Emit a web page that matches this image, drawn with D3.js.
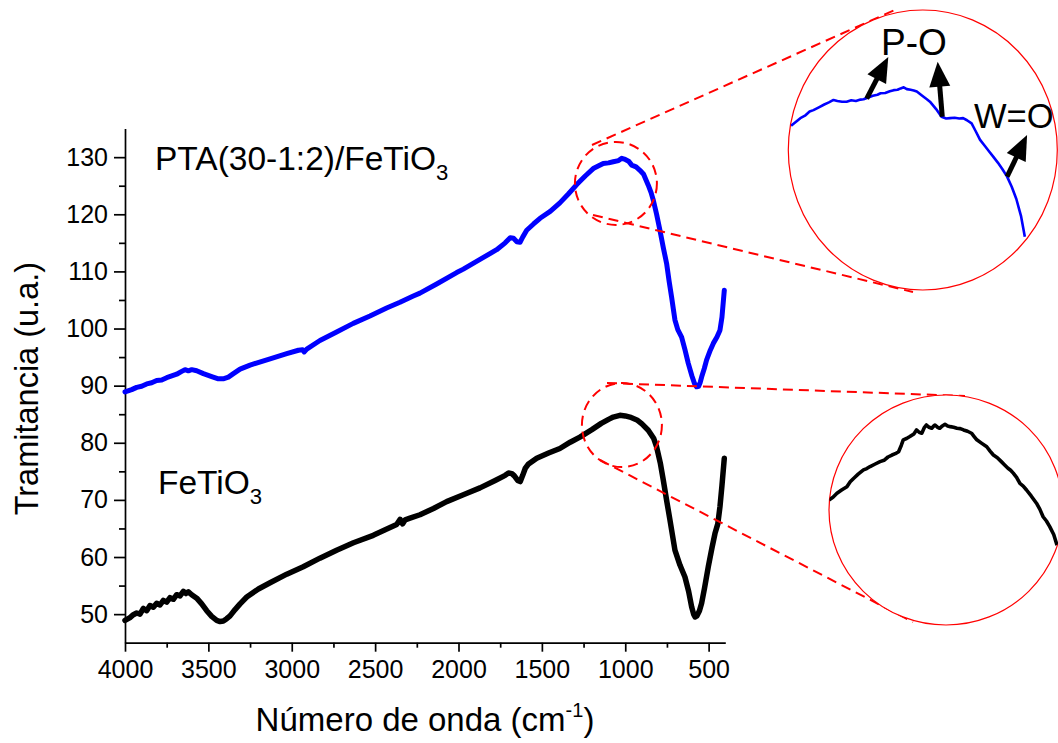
<!DOCTYPE html>
<html>
<head>
<meta charset="utf-8">
<script src="https://cdn.jsdelivr.net/npm/d3@7"></script>
<style>
  body { margin: 0; background: #fff; }
  text { font-family: "Liberation Sans", Arial, Helvetica, sans-serif; fill: #000; }
</style>
</head>
<body>
<svg id="chart" width="1058" height="743"></svg>
<script>
// ---- FTIR spectra (wavenumber in cm-1, transmittance in a.u.) ----
const feWave = [4000,3970,3950,3930,3910,3890,3870,3850,3830,3810,3790,3770,3750,3730,3710,3690,3670,3650,3635,3620,3600,3570,3540,3510,3480,3450,3430,3410,3390,3370,3340,3310,3270,3200,3130,3030,2931,2831,2731,2630,2511,2430,2371,2350,2335,2320,2291,2231,2150,2071,1971,1871,1780,1720,1700,1680,1665,1645,1630,1615,1600,1580,1531,1460,1392,1330,1272,1200,1144,1100,1072,1032,1000,972,930,900,862,830,812,790,772,750,732,702,672,642,620,602,590,581,570,555,542,525,502,480,462,445,432,420,406];
const feT    = [48.9,49.4,49.9,50.2,50.0,51.0,50.6,51.5,51.2,51.9,51.6,52.4,52.1,52.9,52.6,53.4,53.2,54.0,53.6,53.9,53.4,52.8,51.8,50.6,49.6,48.9,48.7,48.8,49.2,49.7,50.8,51.8,53.0,54.4,55.5,57.0,58.3,59.8,61.2,62.5,63.8,64.9,65.7,66.6,65.8,66.5,66.8,67.4,68.5,69.7,70.9,72.1,73.4,74.3,74.7,74.6,74.2,73.4,73.2,74.3,75.5,76.3,77.3,78.2,79.0,80.1,81.0,82.3,83.4,84.1,84.5,84.8,84.7,84.5,84.0,83.3,82.2,80.8,79.3,76.5,73.5,69.6,66.5,61.2,58.6,56.5,54.0,51.3,50.0,49.5,49.7,50.6,51.9,54.5,58.3,61.6,64.1,65.8,68.8,72.5,77.3];

const ptaWave = [4000,3960,3930,3900,3870,3840,3810,3780,3750,3720,3690,3660,3640,3620,3600,3570,3530,3480,3440,3411,3380,3350,3310,3250,3130,3030,2960,2935,2925,2910,2831,2731,2631,2531,2431,2351,2271,2231,2131,2011,1971,1871,1771,1720,1690,1670,1650,1631,1615,1591,1550,1511,1450,1392,1340,1291,1240,1192,1132,1100,1072,1040,1021,1000,980,961,935,912,890,862,845,832,812,792,772,752,737,722,712,702,685,662,642,622,600,585,572,560,550,542,526,512,490,472,450,432,420,406];
const ptaT    = [88.9,89.3,89.7,89.9,90.3,90.5,90.9,91.0,91.4,91.7,92.0,92.5,92.8,92.6,92.8,92.6,92.1,91.6,91.2,91.2,91.5,92.1,92.9,93.6,94.7,95.6,96.2,96.3,95.9,96.4,97.9,99.4,100.9,102.2,103.6,104.6,105.7,106.2,107.8,109.8,110.4,112.1,113.8,115.0,115.9,115.8,115.2,115.1,116.0,117.2,118.3,119.3,120.5,122.0,123.6,125.2,126.7,128.0,128.9,129.0,129.2,129.4,129.8,129.6,129.3,128.6,128.3,127.7,127.0,125.1,123.8,122.5,120.0,117.2,114.2,111.4,108.3,105.5,103.5,101.5,99.8,98.5,96.3,93.9,91.7,90.4,89.8,89.9,90.6,91.5,93.0,94.5,96.2,97.4,98.5,99.7,102.0,106.7];

// ---- zoomed views of the 1200-850 cm-1 band region ----
const ptaZoomWave = [1196,1190,1184,1178,1172,1167,1160,1153,1147,1141,1136,1130,1124,1118,1112,1106,1102,1096,1090,1084,1080,1074,1068,1063,1058,1054,1050,1046,1041,1037,1033,1026,1020,1016,1008,1001,995,990,984,978,973,968,962,957,951,945,940,934,928,922,916,910,904,898,893];
const ptaZoomT    = [127.69,127.80,127.91,127.98,128.10,128.14,128.22,128.30,128.36,128.43,128.40,128.38,128.38,128.42,128.40,128.44,128.45,128.50,128.55,128.58,128.62,128.63,128.68,128.71,128.72,128.76,128.79,128.74,128.72,128.70,128.67,128.55,128.45,128.38,128.17,127.95,127.90,127.91,127.92,127.90,127.91,127.85,127.76,127.55,127.29,127.12,126.98,126.81,126.64,126.45,126.24,125.95,125.60,125.12,124.52];

const feZoomWave = [1200,1194,1188,1181,1173,1168,1163,1156,1148,1143,1138,1131,1123,1117,1111,1105,1100,1095,1091,1088,1083,1078,1072,1068,1064,1060,1056,1053,1049,1045,1042,1040,1036,1033,1029,1025,1021,1017,1012,1007,1002,997,991,985,981,977,970,962,957,952,946,940,935,930,926,922,917,912,907,902,895,887,882,877,872,867,861,856];
const feZoomT    = [82.50,82.58,82.70,82.80,82.90,83.05,83.15,83.28,83.41,83.45,83.51,83.58,83.66,83.70,83.80,83.86,83.90,83.96,84.15,84.32,84.36,84.42,84.50,84.62,84.55,84.52,84.70,84.77,84.70,84.67,84.74,84.77,84.70,84.67,84.74,84.79,84.74,84.72,84.70,84.67,84.66,84.62,84.58,84.52,84.42,84.32,84.22,84.11,83.98,83.86,83.78,83.66,83.56,83.46,83.40,83.31,83.18,83.00,82.92,82.80,82.62,82.40,82.22,81.99,81.86,81.69,81.45,81.13];

// band assignments marked in the PTA zoom (wavenumber, transmittance at the band)
const bandWave = [1098, 1000, 916];
const bandT    = [128.47, 127.95, 126.24];

// axis ticks
const xMajorTicks = [4000,3500,3000,2500,2000,1500,1000,500];
const xMinorTicks = [3750,3250,2750,2250,1750,1250,750];
const yMajorTicks = [50,60,70,80,90,100,110,120,130];
const yMinorTicks = [55,65,75,85,95,105,115,125];

// ---- drawing ----
const svg = d3.select("#chart");
const FONT = 25;

const x = d3.scaleLinear().domain([4000, 400]).range([125, 725.3]);
const y = d3.scaleLinear().domain([45, 135]).range([642.7, 128.6]);

// x axis
const gx = svg.append("g").attr("transform", `translate(0,${y(45)})`);
gx.call(d3.axisBottom(x).tickValues(xMajorTicks).tickSize(9).tickSizeOuter(0)
  .tickPadding(9).tickFormat(d3.format("d")));
gx.append("g").call(d3.axisBottom(x).tickValues(xMinorTicks).tickSize(5).tickSizeOuter(0).tickFormat(""))
  .select(".domain").remove();

// y axis
const gy = svg.append("g").attr("transform", `translate(${x(4000)},0)`);
gy.call(d3.axisLeft(y).tickValues(yMajorTicks).tickSize(11).tickSizeOuter(0)
  .tickPadding(6).tickFormat(d3.format("d")));
gy.append("g").call(d3.axisLeft(y).tickValues(yMinorTicks).tickSize(6).tickSizeOuter(0).tickFormat(""))
  .select(".domain").remove();

svg.selectAll(".domain, .tick line").attr("stroke", "#000").attr("stroke-width", 1.7);
svg.selectAll(".tick text").attr("font-size", FONT).attr("fill", "#000")
  .attr("font-family", "'Liberation Sans', Arial, sans-serif");

// axis titles
svg.append("text")
  .attr("transform", `translate(38,${(y(45) + y(135)) / 2 + 3}) rotate(-90)`)
  .attr("text-anchor", "middle").attr("font-size", 32.5)
  .text("Tramitancia (u.a.)");

const xt = svg.append("text")
  .attr("x", 425).attr("y", 731).attr("text-anchor", "middle").attr("font-size", 33);
xt.append("tspan").text("Número de onda (cm");
xt.append("tspan").attr("font-size", 20).attr("dy", -14).text("-1");
xt.append("tspan").attr("dy", 14).text(")");

// spectra
const line = d3.line().x(d => x(d[0])).y(d => y(d[1]));
svg.append("path").datum(d3.zip(ptaWave, ptaT))
  .attr("d", line).attr("fill", "none").attr("stroke", "#0000ff")
  .attr("stroke-width", 5).attr("stroke-linejoin", "round").attr("stroke-linecap", "round");
svg.append("path").datum(d3.zip(feWave, feT))
  .attr("d", line).attr("fill", "none").attr("stroke", "#000")
  .attr("stroke-width", 5.5).attr("stroke-linejoin", "round").attr("stroke-linecap", "round");

// sample labels
function chemLabel(px, py, main, sub, size) {
  const t = svg.append("text").attr("x", px).attr("y", py).attr("font-size", size);
  t.append("tspan").text(main);
  t.append("tspan").attr("font-size", size * 0.66).attr("dy", size * 0.3).text(sub);
}
chemLabel(155, 170, "PTA(30-1:2)/FeTiO", "3", 33.5);
chemLabel(158, 494, "FeTiO", "3", 33.5);

// ---- magnified regions ----
const RED = "#ff0000";
const dash = "10,6";

// dashed outlines around the magnified band region on each spectrum
const spotTop = { cx: x(1056), cy: y(125.4), rx: 41, ry: 41.5 };
const spotBot = { cx: x(1020), cy: y(83.1), rx: 40, ry: 42 };
[spotTop, spotBot].forEach(s => {
  svg.append("ellipse").attr("cx", s.cx).attr("cy", s.cy).attr("rx", s.rx).attr("ry", s.ry)
    .attr("fill", "none").attr("stroke", RED).attr("stroke-width", 2).attr("stroke-dasharray", dash);
});

const lensTop = { cx: 922.8, cy: 150, rx: 134.5, ry: 140 };
const lensBot = { cx: 946, cy: 510, rx: 117, ry: 115 };

// dashed guide lines from each outline to its magnifier
const guides = [
  [592, 145, 897, 9], [593, 215, 913, 292],
  [607, 383, 965, 396], [600, 460, 913, 622]
];
svg.selectAll(".guide").data(guides).enter().append("line")
  .attr("x1", d => d[0]).attr("y1", d => d[1]).attr("x2", d => d[2]).attr("y2", d => d[3])
  .attr("stroke", RED).attr("stroke-width", 2).attr("stroke-dasharray", dash);

const defs = svg.append("defs");
[["clipTop", lensTop], ["clipBot", lensBot]].forEach(([id, l]) => {
  defs.append("clipPath").attr("id", id).append("ellipse")
    .attr("cx", l.cx).attr("cy", l.cy).attr("rx", l.rx).attr("ry", l.ry);
});

[lensTop, lensBot].forEach(l => {
  svg.append("ellipse").attr("cx", l.cx).attr("cy", l.cy).attr("rx", l.rx).attr("ry", l.ry)
    .attr("fill", "#fff").attr("stroke", RED).attr("stroke-width", 1.2);
});

// PTA zoom
const zx1 = d3.scaleLinear().domain([1200, 850]).range([788, 1058]);
const zy1 = d3.scaleLinear().domain([123, 131]).range([290, 10]);
svg.append("path").datum(d3.zip(ptaZoomWave, ptaZoomT))
  .attr("clip-path", "url(#clipTop)")
  .attr("d", d3.line().x(d => zx1(d[0])).y(d => zy1(d[1])))
  .attr("fill", "none").attr("stroke", "#0000ff").attr("stroke-width", 2.6)
  .attr("stroke-linejoin", "round");

// FeTiO3 zoom
const zx2 = d3.scaleLinear().domain([1200, 850]).range([829, 1061]);
const zy2 = d3.scaleLinear().domain([78.7, 85.7]).range([625.3, 394.3]);
svg.append("path").datum(d3.zip(feZoomWave, feZoomT))
  .attr("clip-path", "url(#clipBot)")
  .attr("d", d3.line().x(d => zx2(d[0])).y(d => zy2(d[1])))
  .attr("fill", "none").attr("stroke", "#000").attr("stroke-width", 3.6)
  .attr("stroke-linejoin", "round");

// band arrows
const arrowOffsets = [[21.6, -41.6], [-4.6, -55], [20, -41.6]];
function arrow(x0, y0, x1, y1) {
  const L = 25, W = 21;
  const len = Math.hypot(x1 - x0, y1 - y0);
  const ux = (x1 - x0) / len, uy = (y1 - y0) / len;
  const bx = x1 - ux * L, by = y1 - uy * L;
  svg.append("line").attr("x1", x0).attr("y1", y0).attr("x2", bx + ux * 2).attr("y2", by + uy * 2)
    .attr("stroke", "#000").attr("stroke-width", 5);
  svg.append("polygon")
    .attr("points", [[x1, y1], [bx - uy * W / 2, by + ux * W / 2], [bx + uy * W / 2, by - ux * W / 2]]
      .map(p => p.join(",")).join(" "))
    .attr("fill", "#000");
}
bandWave.forEach((w, i) => {
  const x0 = zx1(w), y0 = zy1(bandT[i]);
  arrow(x0, y0, x0 + arrowOffsets[i][0], y0 + arrowOffsets[i][1]);
});

svg.append("text").attr("x", 881).attr("y", 55).attr("font-size", 37).text("P-O");
svg.append("text").attr("x", 974).attr("y", 128).attr("font-size", 34.5).text("W=O");
</script>
</body>
</html>
